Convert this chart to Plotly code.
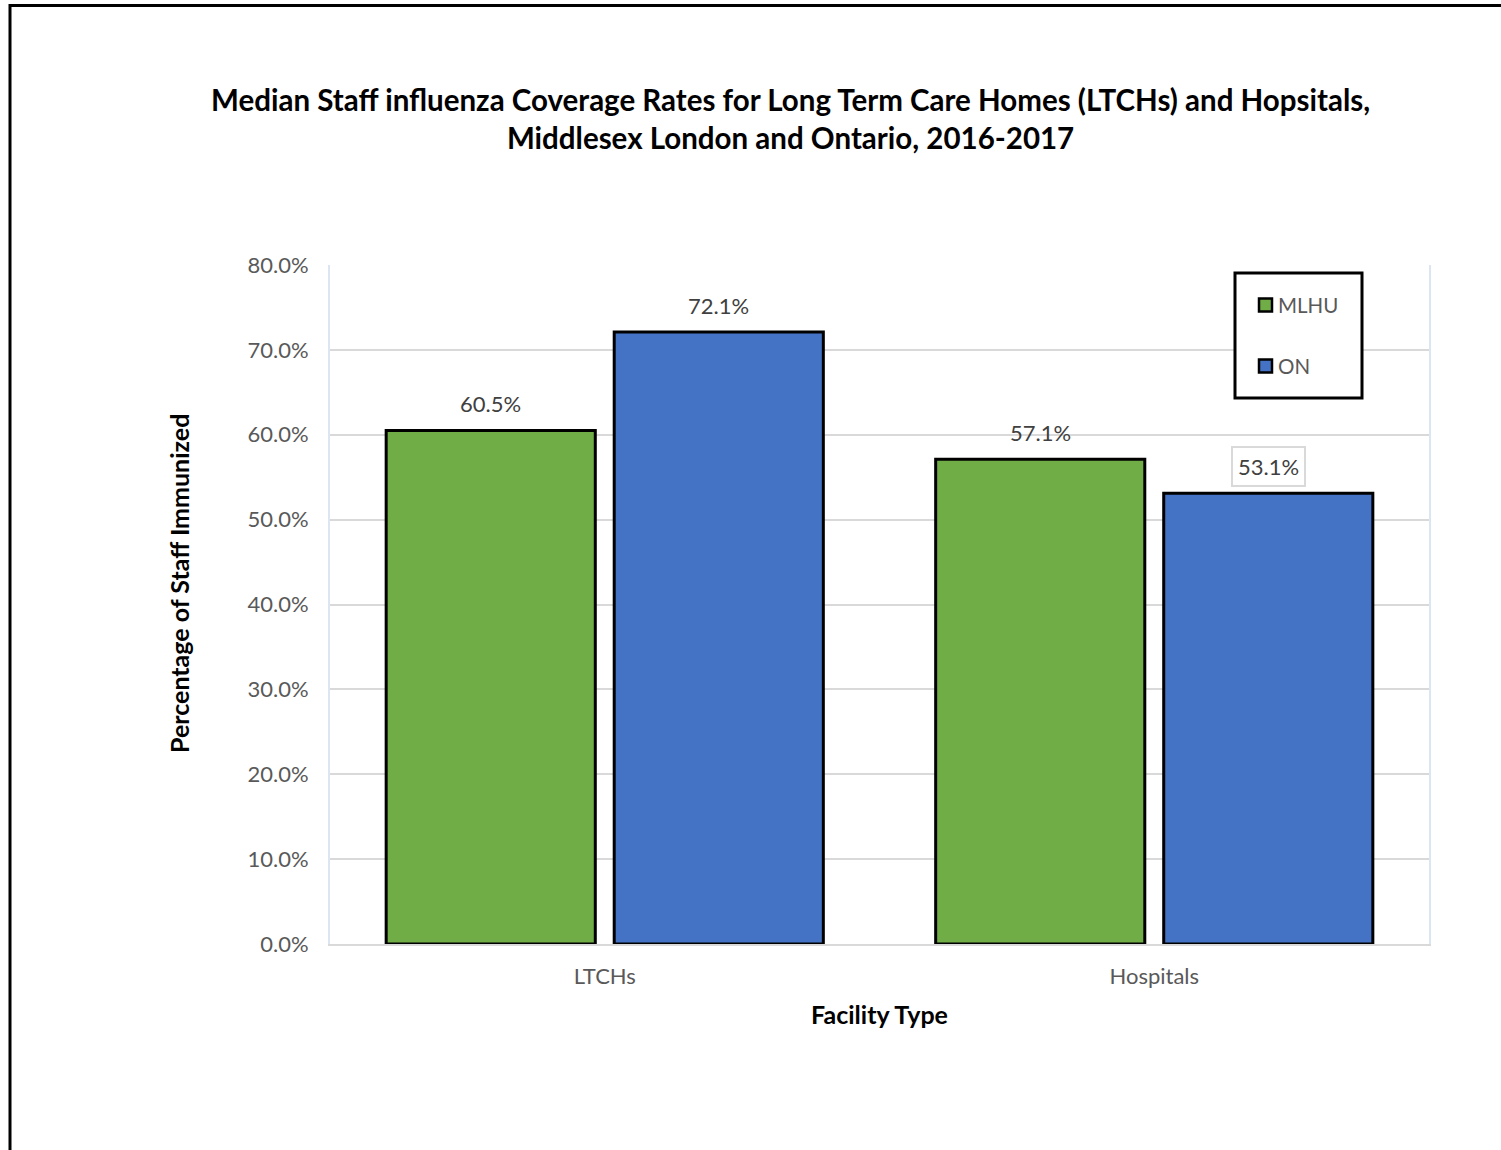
import plotly.graph_objects as go

# Facility categories and median staff coverage (fraction of staff immunized)
facilities = ["LTCHs", "Hospitals"]
mlhu_rates = [0.605, 0.571]
on_rates = [0.721, 0.531]
series_names = ["MLHU", "ON"]
series_colors = ["#70AD47", "#4472C4"]
y_ticks = [0.0, 0.1, 0.2, 0.3, 0.4, 0.5, 0.6, 0.7, 0.8]

FONT = "Lato"
TEXT_GREY = "#595959"
LABEL_GREY = "#404040"

# plot-area geometry in pixels (page 1501 x 1150)
L, R, T, B = 330, 1429, 265, 944
W, H = R - L, B - T


def px_x(px):
    return (px - L) / W


def px_y(py):
    return (B - py) / H


BARGAP = 0.17
BARGROUPGAP = 0.083

fig = go.Figure()
for name, vals, color in zip(series_names, [mlhu_rates, on_rates], series_colors):
    fig.add_trace(go.Bar(
        name=name,
        x=facilities,
        y=vals,
        marker=dict(color=color, line=dict(color="#000000", width=3)),
        hoverinfo="skip",
        showlegend=False,
    ))

# Value labels above each bar, positioned at the bar centres of the grouped layout
slot = (1 - BARGAP) / 2
offsets = [-slot / 2, slot / 2]
annotations = []
for s, vals in enumerate([mlhu_rates, on_rates]):
    for i, v in enumerate(vals):
        boxed = (s == 1 and i == 1)
        annotations.append(dict(
            x=i + offsets[s], y=v, xref="x", yref="y",
            text=f"{v * 100:.1f}%",
            showarrow=False, yanchor="middle", yshift=27,
            font=dict(family=FONT, size=22, color=LABEL_GREY),
            bordercolor="#d9d9d9" if boxed else None,
            borderwidth=2 if boxed else 0,
            borderpad=5 if boxed else 0,
            bgcolor="#ffffff" if boxed else None,
        ))

# Chart title
annotations.append(dict(
    text="<b>Median Staff influenza Coverage Rates for Long Term Care Homes (LTCHs) and Hopsitals,<br>"
         "Middlesex London and Ontario, 2016-2017</b>",
    xref="paper", yref="paper", x=px_x(790), y=px_y(118),
    xanchor="center", yanchor="middle", showarrow=False,
    font=dict(family=FONT, size=29.5, color="#000000"),
))
# Y axis title
annotations.append(dict(
    text="<b>Percentage of Staff Immunized</b>",
    xref="paper", yref="paper", x=px_x(179), y=px_y(584),
    xanchor="center", yanchor="middle", textangle=-90, showarrow=False,
    font=dict(family=FONT, size=25, color="#000000"),
))

# Legend: framed box with a square swatch and label per series
shapes = [
    dict(type="rect", xref="paper", yref="paper",
         x0=px_x(1235), x1=px_x(1362), y0=px_y(398), y1=px_y(273),
         line=dict(color="#000000", width=3), fillcolor="#ffffff", layer="above"),
]
legend_rows = [305, 366]
for name, color, row in zip(series_names, series_colors, legend_rows):
    shapes.append(dict(
        type="rect", xref="paper", yref="paper",
        x0=px_x(1259), x1=px_x(1272), y0=px_y(row + 6.5), y1=px_y(row - 6.5),
        line=dict(color="#000000", width=2.5), fillcolor=color, layer="above",
    ))
    annotations.append(dict(
        text=name, xref="paper", yref="paper", x=px_x(1276), y=px_y(row),
        xanchor="left", yanchor="middle", showarrow=False,
        font=dict(family=FONT, size=20.5, color=TEXT_GREY),
    ))

# outer frame around the whole figure
shapes.append(dict(
    type="rect", xref="paper", yref="paper",
    x0=px_x(10), x1=px_x(1540), y0=px_y(1200), y1=px_y(5.5),
    line=dict(color="#000000", width=3), fillcolor="rgba(0,0,0,0)", layer="below",
))

fig.update_layout(
    width=1501, height=1150,
    margin=dict(l=L, r=1501 - R, t=T, b=1150 - B),
    paper_bgcolor="#ffffff", plot_bgcolor="#ffffff",
    barmode="group", bargap=BARGAP, bargroupgap=BARGROUPGAP,
    font=dict(family=FONT, size=22, color=TEXT_GREY),
    annotations=annotations,
    shapes=shapes,
    showlegend=False,
)

fig.update_xaxes(
    type="category",
    showline=True, linecolor="#d9d9d9", linewidth=2,
    showgrid=False, ticks="",
    ticklabelstandoff=12,
    tickfont=dict(family=FONT, size=22, color=TEXT_GREY),
    title=dict(text="<b>Facility Type</b>", font=dict(family=FONT, size=25, color="#000000"), standoff=18),
)
fig.update_yaxes(
    range=[0, 0.8], tickvals=y_ticks, tickformat=".1%",
    showgrid=True, gridcolor="#d9d9d9", gridwidth=2,
    showline=True, linecolor="#dce6f2", linewidth=2, mirror=True,
    zeroline=False, ticks="",
    ticklabelstandoff=15,
    tickfont=dict(family=FONT, size=22, color=TEXT_GREY),
)

fig.write_html("out.html")
